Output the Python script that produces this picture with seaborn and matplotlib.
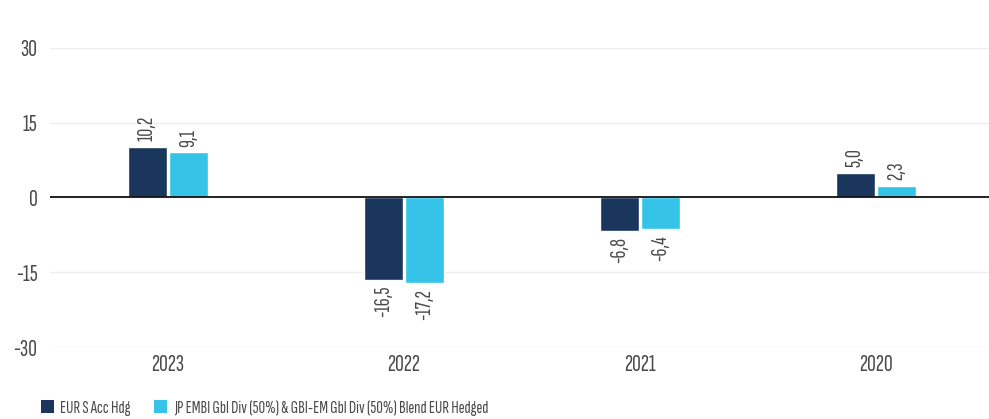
import pandas as pd
import matplotlib
matplotlib.use("Agg")
import matplotlib.pyplot as plt
import seaborn as sns
from matplotlib.patches import Patch

# ---------------------------
# Data
# ---------------------------
years = ["2023", "2022", "2021", "2020"]
fund = [10.2, -16.5, -6.8, 5.0]
bench = [9.1, -17.2, -6.4, 2.3]
series_names = [
    "EUR S Acc Hdg",
    "JP EMBI Gbl Div (50%) & GBI-EM Gbl Div (50%) Blend EUR Hedged",
]
colors = ["#1b365d", "#35c4e8"]
yticks = [-30, -15, 0, 15, 30]

df = pd.DataFrame({
    "year": years * 2,
    "value": fund + bench,
    "series": [series_names[0]] * 4 + [series_names[1]] * 4,
})

# ---------------------------
# Style
# ---------------------------
sns.set_style("white")
plt.rcParams["font.family"] = ["Sofia Sans Extra Condensed", "DejaVu Sans"]
text_col = "#4a4a4a"

fig = plt.figure(figsize=(9.89, 4.19), dpi=100)
ax = fig.add_axes([50 / 989, 1 - 347 / 419, 944 / 989, 299 / 419])

sns.barplot(
    data=df, x="year", y="value", hue="series",
    palette=colors, width=0.348, gap=0.073,
    saturation=1, ax=ax, legend=False,
)

ax.set_ylim(-30, 30)
ax.set_xlim(-0.5, 3.5)
ax.set_yticks(yticks)
ax.set_yticklabels([str(t) for t in yticks])
ax.yaxis.grid(True, color="#eeeeee", linewidth=1)
ax.set_axisbelow(True)
ax.axhline(0, color="#111111", linewidth=1.3, zorder=3)
for s in ax.spines.values():
    s.set_visible(False)
ax.tick_params(axis="both", length=0, labelsize=17.5, labelcolor=text_col)
ax.tick_params(axis="y", pad=9)
ax.tick_params(axis="x", pad=5)
ax.set_xlabel("")
ax.set_ylabel("")

# value labels
for cont in ax.containers:
    for bar in cont:
        h = bar.get_height()
        xc = bar.get_x() + bar.get_width() / 2
        lab = f"{h:.1f}".replace(".", ",")
        if h >= 0:
            ax.annotate(lab, (xc, h), xytext=(0, 4), textcoords="offset points",
                        rotation=90, ha="center", va="bottom",
                        fontsize=16, color=text_col, clip_on=False)
        else:
            ax.annotate(lab, (xc, h), xytext=(0, -4), textcoords="offset points",
                        rotation=90, ha="center", va="top",
                        fontsize=16, color=text_col, clip_on=False)

# legend
handles = [Patch(facecolor=c, edgecolor="none") for c in colors]
fig.legend(handles, series_names, loc="lower left",
           bbox_to_anchor=(41 / 989, 3 / 419), ncol=2, frameon=False,
           borderpad=0, borderaxespad=0,
           fontsize=13, labelcolor=text_col, handlelength=0.72,
           handleheight=0.72, handletextpad=0.35, columnspacing=1.3)

plt.savefig("out.png", dpi=100)
